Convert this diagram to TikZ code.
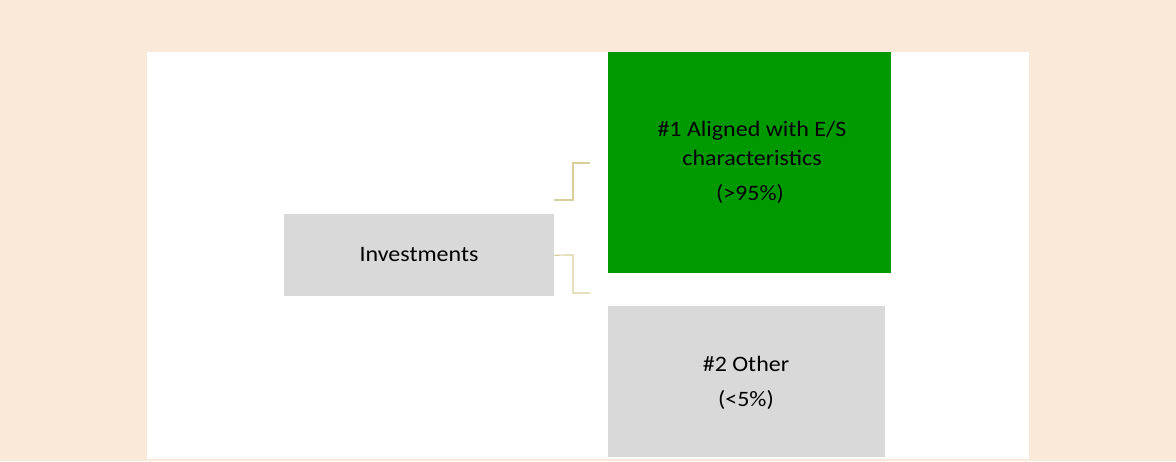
\documentclass[tikz,border=0pt]{standalone}
\usepackage{fontspec}
\setmainfont{Carlito}[FakeStretch=1.09]
\definecolor{peach}{HTML}{FAE8D8}
\definecolor{boxgreen}{HTML}{009900}
\definecolor{boxgray}{HTML}{D9D9D9}
\definecolor{linkcol}{HTML}{D8D09C}
\tikzset{
  box/.style={draw=none, inner sep=0pt, anchor=north west},
  lbl/.style={font=\fontsize{22}{26}\selectfont, text=black, inner sep=0pt},
  link/.style={draw=linkcol, line width=1.2pt}
}
\begin{document}
\begin{tikzpicture}[x=1pt,y=-1pt]
\useasboundingbox (0,0) rectangle (1176,461);
\fill[peach] (0,0) rectangle (1176,461);
\fill[white] (147,52) rectangle (1029,459);
\node[box, fill=boxgreen, minimum width=283pt, minimum height=221pt] (g) at (608,52) {};
\node[box, fill=boxgray, minimum width=277pt, minimum height=151pt] (o) at (608,306) {};
\node[box, fill=boxgray, minimum width=270pt, minimum height=82pt] (inv) at (284,214) {};
\node[lbl] (tinv) at (419,255) {Investments};
\node[lbl] (t1) at (752,131) {\#1 Aligned with E/S};
\node[lbl] (t2) at (752,158) {characteristics};
\node[lbl] (t3) at (750,194) {(>95\%)};
\node[lbl] (t4) at (746,364) {\#2 Other};
\node[lbl] (t5) at (746,400) {(<5\%)};
\coordinate (a1) at (554,200);
\coordinate (a2) at (590,163);
\coordinate (b2) at (590,293);
\draw[link] (a1) -- (573,200) -- (573,163) -- (a2);
\draw[link] (inv.east) -- (573,255) -- (573,293) -- (b2);
\end{tikzpicture}
\end{document}
